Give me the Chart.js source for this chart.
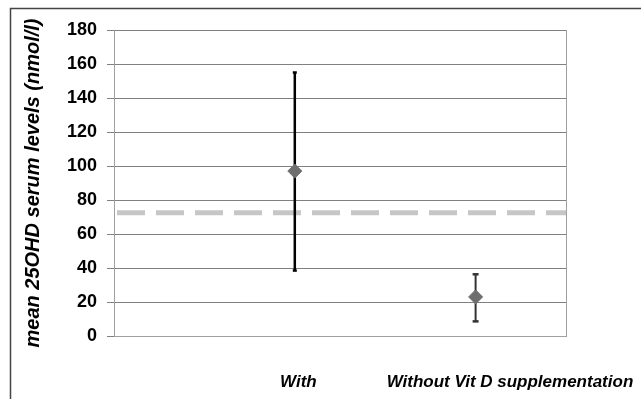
<!DOCTYPE html>
<html><head><meta charset="utf-8">
<script src="https://cdn.jsdelivr.net/npm/chart.js@4.4.1/dist/chart.umd.min.js"></script>
<style>html,body{margin:0;padding:0;background:#fff;}#wrap{width:641px;height:399px;}</style>
</head><body><div id="wrap"><canvas id="c" width="641" height="399"></canvas></div>
<script>
const categories = ["With", "Without Vit D supplementation"];
const groupX = [4, 8];
const labelX = [4.08, 8.76];
const means = [97, 23];
const lower = [38.5, 8.6];
const upper = [155, 36.3];
const threshold = 72.5;
const yTicks = [0,20,40,60,80,100,120,140,160,180];

const frame = {
  id: 'frame',
  beforeDraw(chart) {
    const ctx = chart.ctx;
    ctx.save();
    ctx.fillStyle = '#fff';
    ctx.fillRect(0,0,chart.width,chart.height);
    ctx.strokeStyle = '#444';
    ctx.lineWidth = 1.5;
    ctx.strokeRect(10.5, 8.5, chart.width + 20, chart.height + 20);
    ctx.restore();
  }
};

const errorSets = means.map((m,i) => ({
  type: 'line',
  data: [{x: groupX[i], y: lower[i]}, {x: groupX[i], y: upper[i]}],
  borderColor: i === 0 ? '#000' : '#333',
  borderWidth: i === 0 ? 2.5 : 2,
  pointStyle: 'line',
  pointRadius: i === 0 ? 2 : 3,
  pointBorderColor: i === 0 ? '#000' : '#333',
  pointBorderWidth: 2.5,
  order: 2
}));

new Chart(document.getElementById('c'), {
  type: 'scatter',
  data: {
    datasets: [
      {
        type: 'scatter',
        data: means.map((m,i) => ({x: groupX[i], y: m})),
        pointStyle: 'rectRot',
        pointRadius: 7,
        backgroundColor: '#6e6e6e',
        borderColor: '#6e6e6e',
        borderWidth: 1,
        order: 1
      },
      ...errorSets,
      {
        type: 'line',
        data: [{x: 0, y: threshold}, {x: 10, y: threshold}],
        borderColor: '#c6c6c6',
        borderWidth: 5,
        borderDash: [28, 11],
        borderDashOffset: -3,
        pointRadius: 0,
        order: 3
      }
    ]
  },
  options: {
    responsive: false,
    animation: false,
    devicePixelRatio: 1,
    layout: { padding: { left: 10, right: 75, top: 30, bottom: 0 } },
    plugins: { legend: { display: false }, tooltip: { enabled: false } },
    scales: {
      x: {
        type: 'linear', min: 0, max: 10,
        grid: { display: false, drawTicks: false },
        border: { display: true, color: '#a0a0a0', width: 1 },
        afterBuildTicks: s => { s.ticks = labelX.map(v => ({value: v})); },
        afterFit: s => { s.height = 63; s.paddingLeft = 0; s.paddingRight = 0; },
        ticks: {
          autoSkip: false, maxRotation: 0, minRotation: 0, padding: 36,
          color: '#000',
          font: { family: 'Liberation Sans, Arial, sans-serif', size: 17, weight: 'bold', style: 'italic' },
          callback: (v, i) => categories[i]
        }
      },
      y: {
        min: 0, max: 180,
        afterBuildTicks: s => { s.ticks = yTicks.map(v => ({value: v})); },
        afterFit: s => { s.width = 104; },
        grid: { color: '#808080', lineWidth: 1, tickLength: 7, drawTicks: true },
        border: { display: true, color: '#a0a0a0', width: 1 },
        ticks: {
          padding: 10, color: '#000',
          font: { family: 'Liberation Sans, Arial, sans-serif', size: 18, weight: 'bold' }
        },
        title: {
          display: true,
          text: 'mean 25OHD serum levels (nmol/l)',
          color: '#000',
          padding: { top: 11, bottom: 0 },
          font: { family: 'Liberation Sans, Arial, sans-serif', size: 20, weight: 'bold', style: 'italic' }
        }
      }
    }
  },
  plugins: [frame, {
    id: 'rightBorder',
    afterDraw(chart) {
      const a = chart.chartArea, ctx = chart.ctx;
      ctx.save();
      ctx.strokeStyle = '#a0a0a0'; ctx.lineWidth = 1;
      ctx.beginPath(); ctx.moveTo(Math.round(a.right)+0.5, a.top); ctx.lineTo(Math.round(a.right)+0.5, a.bottom); ctx.stroke();
      ctx.restore();
    }
  }]
});
</script></body></html>
